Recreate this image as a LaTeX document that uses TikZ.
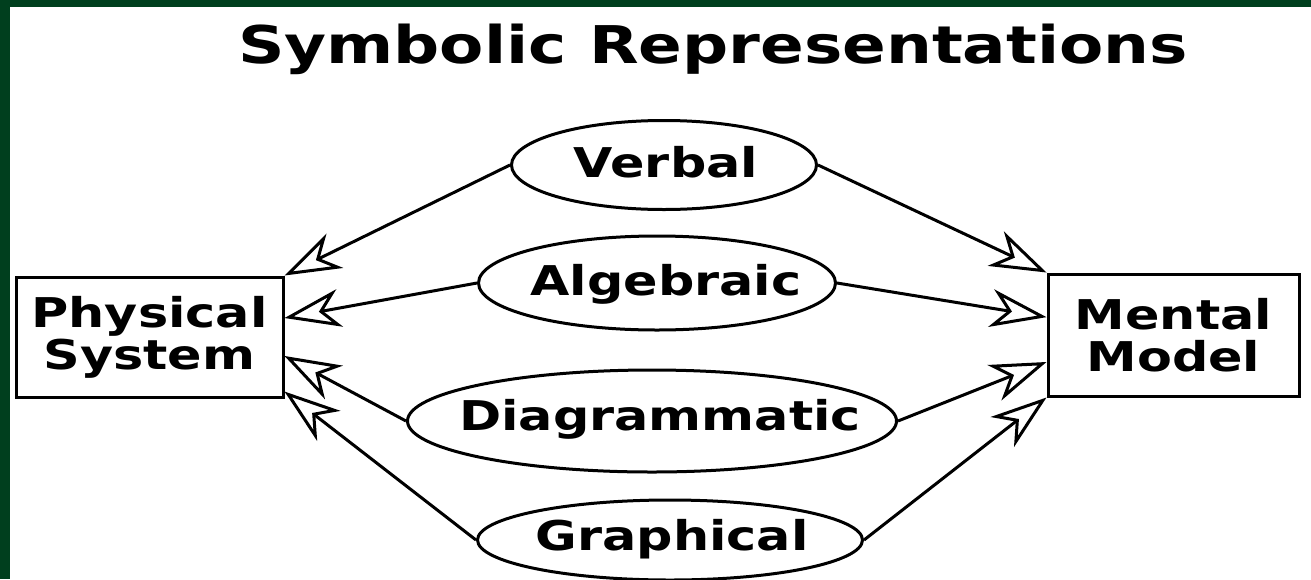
\documentclass[tikz,border=0pt]{standalone}
\usepackage{fontspec}
\setmainfont{DejaVu Sans}[FakeStretch=1.24]
\usetikzlibrary{shapes.geometric,arrows.meta}
\definecolor{framegreen}{RGB}{0,63,30}

\begin{document}
\begin{tikzpicture}[x=1pt,y=-1pt,
    box/.style={draw,line width=3pt,align=center,inner sep=0pt,
      font=\bfseries\fontsize{41}{42}\selectfont},
    oval/.style={ellipse,draw,line width=3pt,inner sep=0pt},
    word/.style={anchor=base,inner sep=0pt,font=\bfseries\fontsize{41}{42}\selectfont},
    link/.style={line width=3pt,-{Stealth[open,length=56pt,width=38pt,inset=17pt]}}]
  \useasboundingbox (0,0) rectangle (1311,579);
  \clip (0,0) rectangle (1311,579);
  % frame
  \fill[framegreen] (0,0) rectangle (1311,579);
  \fill[white] (10,7) rectangle (1311,579);

  % title
  \node[anchor=base,inner sep=0pt,font=\bfseries\fontsize{52}{54}\selectfont] (title) at (713,63) {Symbolic Representations};

  % the two boxes
  \node[box,minimum width=267pt,minimum height=120pt] (phys) at (149.5,337) {Physical\\System};
  \node[box,minimum width=251pt,minimum height=122pt] (mental) at (1173.5,335) {Mental\\Model};

  % representations
  \node[oval,minimum width=305pt,minimum height=89pt] (verbal) at (664,165) {};
  \node[word] at (666,177) {Verbal};
  \node[oval,minimum width=357pt,minimum height=94pt] (algebraic) at (657,283) {};
  \node[word] at (666,295) {Algebraic};
  \node[oval,minimum width=489pt,minimum height=102pt] (diagram) at (652,421) {};
  \node[word] at (660,430) {Diagrammatic};
  \node[oval,minimum width=385pt,minimum height=80pt] (graphical) at (670,540) {};
  \node[word] at (672,550) {Graphical};

  % arrows to the physical system
  \draw[link] (verbal.west) -- (phys.north east);
  \draw[link] (algebraic.west) -- (phys.8.5);
  \draw[link] (diagram.west) -- (phys.-8.5);
  \draw[link] (graphical.west) -- (phys.-22.4);

  % arrows to the mental model
  \draw[link] (verbal.east) -- (mental.north west);
  \draw[link] (algebraic.east) -- (mental.172.7);
  \draw[link] (diagram.east) -- (mental.-168.7);
  \draw[link] (graphical.east) -- (mental.south west);
\end{tikzpicture}
\end{document}
